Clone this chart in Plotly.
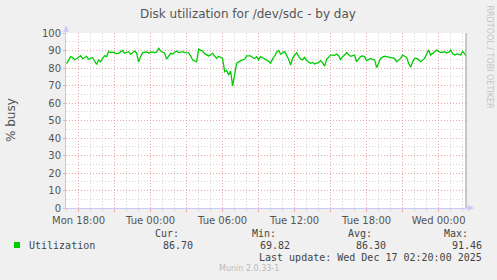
import pandas as pd
import plotly.graph_objects as go

# ---- data (10-minute samples, Mon 2025-12-15 17:00 -> Wed 2025-12-17 02:20) ----
start_time = "2025-12-15 17:00"
sample_minutes = 10
utilization = [
    82.5, 84.5, 86.5, 86.0, 84.8, 85.3, 86.2, 87.0, 85.3, 86.0,
    86.7, 85.0, 85.3, 86.0, 84.0, 82.0, 84.6, 83.6, 85.5, 87.0,
    86.5, 89.6, 88.8, 89.0, 88.6, 88.2, 88.4, 89.2, 90.0, 88.4,
    88.8, 89.3, 87.8, 88.6, 89.7, 88.6, 83.4, 86.5, 88.9, 89.0,
    89.2, 88.6, 88.9, 89.2, 88.7, 89.0, 91.46, 89.7, 89.0, 88.6,
    85.1, 87.0, 88.4, 88.0, 89.0, 89.7, 88.8, 89.0, 89.3, 88.8,
    88.6, 88.6, 87.0, 84.6, 84.0, 83.6, 90.7, 90.2, 89.7, 88.2,
    87.4, 86.9, 87.5, 88.5, 86.8, 85.5, 86.7, 86.3, 85.5, 77.9,
    78.7, 76.0, 78.3, 69.82, 76.5, 82.7, 83.5, 84.2, 84.6, 85.0,
    86.9, 86.9, 86.9, 86.0, 85.5, 86.5, 84.6, 86.5, 86.0, 85.5,
    84.6, 83.8, 82.7, 85.2, 86.7, 89.0, 89.9, 88.0, 88.8, 89.3,
    87.2, 85.0, 81.7, 85.5, 87.4, 88.8, 86.7, 85.2, 84.6, 86.1,
    84.3, 83.6, 82.7, 83.2, 82.3, 82.8, 83.0, 84.2, 83.0, 81.1,
    85.0, 86.1, 87.4, 87.4, 87.2, 88.0, 87.0, 84.8, 86.5, 87.4,
    88.8, 87.5, 86.7, 87.0, 87.4, 83.6, 85.0, 86.5, 86.9, 86.5,
    84.2, 85.0, 85.5, 84.8, 84.6, 80.2, 83.0, 85.5, 86.2, 86.7,
    86.5, 86.3, 86.1, 85.8, 85.5, 83.6, 84.5, 85.5, 87.4, 86.5,
    86.1, 82.7, 80.4, 83.5, 85.5, 85.5, 84.8, 83.6, 84.5, 85.5,
    88.0, 90.3, 87.4, 88.5, 89.5, 90.3, 89.5, 88.8, 89.0, 89.3,
    88.6, 89.0, 90.2, 88.2, 87.4, 88.0, 87.8, 87.4, 89.5, 88.0,
    86.7,
]
x_tick_vals = ["2025-12-15 18:00", "2025-12-15 21:00", "2025-12-16 00:00",
               "2025-12-16 03:00", "2025-12-16 06:00", "2025-12-16 09:00",
               "2025-12-16 12:00", "2025-12-16 15:00", "2025-12-16 18:00",
               "2025-12-16 21:00", "2025-12-17 00:00"]
x_tick_text = ["Mon 18:00", "", "Tue 00:00", "", "Tue 06:00", "",
               "Tue 12:00", "", "Tue 18:00", "", "Wed 00:00"]
y_tick_vals = [0, 10, 20, 30, 40, 50, 60, 70, 80, 90, 100]
legend_name = "Utilization"
stat_labels = ["Cur:", "Min:", "Avg:", "Max:"]
stat_values = ["86.70", "69.82", "86.30", "91.46"]
title_text = "Disk utilization for /dev/sdc - by day"
y_title = "% busy"
last_update = "Last update: Wed Dec 17 02:20:00 2025"
footer = "Munin 2.0.33-1"
side_text = "RRDTOOL / TOBI OETIKER"

times = pd.date_range(start_time, periods=len(utilization), freq=f"{sample_minutes}min")

# ---- geometry helpers (pixel -> paper) ----
W, H = 497, 280
L, R, T, B = 66, 31, 33, 72
PW, PH = W - L - R, H - T - B


def px(x):
    return (x - L) / PW


def py(y):
    return (H - B - y) / PH


MAJOR = "rgba(235,150,150,0.7)"
MINOR = "rgba(200,200,200,0.75)"
AXIS = "#c8c8f4"
TXT = "#555555"

fig = go.Figure()
fig.add_trace(go.Scatter(x=times, y=utilization, mode="lines",
                         line=dict(color="#00cc00", width=1.3),
                         hoverinfo="skip", showlegend=False))

fig.update_layout(
    width=W, height=H,
    margin=dict(l=L, r=R, t=T, b=B, pad=0),
    paper_bgcolor="#f0f0f0", plot_bgcolor="#ffffff",
    showlegend=False,
    font=dict(family="DejaVu Sans", size=10, color=TXT),
)
fig.update_xaxes(
    type="date",
    range=["2025-12-15 16:57:00", "2025-12-17 02:17:00"],
    tickmode="array", tickvals=x_tick_vals, ticktext=x_tick_text,
    showgrid=True, gridcolor=MAJOR, griddash="1px,2px", gridwidth=1,
    ticks="outside", ticklen=3, tickcolor=MAJOR,
    minor=dict(dtick=3600000, tick0="2025-12-15 00:00", showgrid=True,
               gridcolor=MINOR, griddash="1px,2px", ticks="outside",
               ticklen=2, tickcolor=MINOR),
    showline=True, linecolor=AXIS, linewidth=1, zeroline=False,
    tickfont=dict(family="DejaVu Sans", size=10, color=TXT),
    fixedrange=True,
)
fig.update_yaxes(
    range=[0, 100], tickmode="array", tickvals=y_tick_vals,
    showgrid=True, gridcolor=MAJOR, griddash="1px,2px", gridwidth=1,
    ticks="outside", ticklen=2, tickcolor=MAJOR,
    minor=dict(dtick=5, showgrid=True, gridcolor=MINOR, griddash="1px,2px"),
    showline=True, linecolor=AXIS, linewidth=1, zeroline=False,
    tickfont=dict(family="DejaVu Sans", size=10, color=TXT),
    fixedrange=True,
)

shapes = []
# right border
shapes.append(dict(type="line", xref="paper", yref="paper", x0=1, x1=1, y0=0, y1=1,
                   line=dict(color="#999999", width=1)))
# axis arrows
shapes.append(dict(type="line", xref="paper", yref="paper", x0=1, x1=px(470), y0=0, y1=0,
                   line=dict(color=AXIS, width=1)))
shapes.append(dict(type="path", xref="paper", yref="paper",
                   path=f"M {px(468)} {py(205.5)} L {px(473.5)} {py(208)} L {px(468)} {py(210.5)} Z",
                   fillcolor=AXIS, line=dict(color=AXIS, width=0.5)))
shapes.append(dict(type="line", xref="paper", yref="paper", x0=0, x1=0, y0=1, y1=py(30),
                   line=dict(color=AXIS, width=1)))
shapes.append(dict(type="path", xref="paper", yref="paper",
                   path=f"M {px(63.5)} {py(31.5)} L {px(66)} {py(26)} L {px(68.5)} {py(31.5)} Z",
                   fillcolor=AXIS, line=dict(color=AXIS, width=0.5)))
# legend swatch
shapes.append(dict(type="rect", xref="paper", yref="paper",
                   x0=px(14), x1=px(20), y0=py(248), y1=py(242),
                   fillcolor="#00cc00", line=dict(width=0)))
fig.update_layout(shapes=shapes)

MONO = dict(family="DejaVu Sans Mono", size=10, color="#444444")
ann = []
ann.append(dict(text=title_text, x=px(248), y=py(14), xanchor="center", yanchor="middle",
                font=dict(family="DejaVu Sans", size=12, color=TXT)))
ann.append(dict(text=y_title, x=px(11), y=py(120), textangle=-90, xanchor="center",
                yanchor="middle", font=dict(family="DejaVu Sans", size=12, color=TXT)))
ann.append(dict(text=legend_name, x=px(26.5), y=py(245.3), xanchor="left", yanchor="middle",
                font=MONO))
label_right = [180.5, 277.5, 373.5, 469.5]
value_right = [194.5, 292, 387.5, 483.5]
for lab, val, lx, vx in zip(stat_labels, stat_values, label_right, value_right):
    ann.append(dict(text=lab, x=px(lx), y=py(233.3), xanchor="right", yanchor="middle",
                    font=MONO))
    ann.append(dict(text=val, x=px(vx), y=py(245.3), xanchor="right", yanchor="middle",
                    font=MONO))
ann.append(dict(text=last_update, x=px(483.5), y=py(257.7), xanchor="right",
                yanchor="middle", font=MONO))
ann.append(dict(text=footer, x=px(248.5), y=py(268.7), xanchor="center", yanchor="middle",
                font=dict(family="DejaVu Sans", size=8, color="#bbbbbb")))
ann.append(dict(text=side_text, x=px(489), y=py(56.5), textangle=90, xanchor="center",
                yanchor="middle", font=dict(family="DejaVu Sans", size=8, color="#c4c4c4")))
for a in ann:
    a.update(xref="paper", yref="paper", showarrow=False)
fig.update_layout(annotations=ann)

fig.write_html("out.html", config={"displayModeBar": False})
